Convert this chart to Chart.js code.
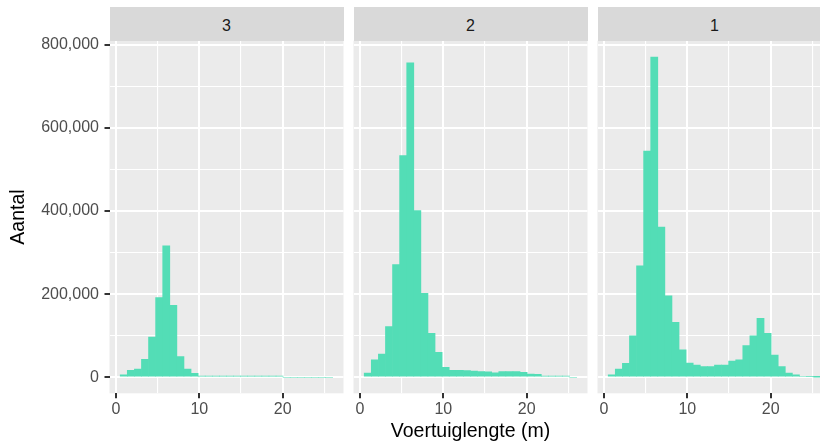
<!DOCTYPE html>
<html>
<head>
<meta charset="utf-8">
<script src="https://cdn.jsdelivr.net/npm/chart.js@4"></script>
<style>
  html, body { margin: 0; padding: 0; background: #fff; overflow: hidden; }
  #wrap { position: relative; width: 820px; height: 446px; overflow: hidden; }
  #wrap canvas { position: absolute; top: 0; }
  .strip {
    position: absolute; top: 7.3px; height: 33.4px; width: 234px;
    box-sizing: border-box; padding-top: 5px;
    background: #d9d9d9; color: #1a1a1a;
    font: 16px "Liberation Sans", Arial, sans-serif;
    display: flex; align-items: center; justify-content: center;
  }
</style>
</head>
<body>
<div id="wrap"></div>
<script>
// Voertuiglengte histograms, one panel per facet (30 bins)

const binMids = [0.93, 1.78, 2.63, 3.48, 4.33, 5.18, 6.03, 6.88, 7.73, 8.58,
  9.43, 10.28, 11.13, 11.98, 12.83, 13.68, 14.53, 15.38, 16.23, 17.08,
  17.93, 18.78, 19.63, 20.48, 21.33, 22.18, 23.03, 23.88, 24.73, 25.58];

const facets = ["3", "2", "1"];

const aantal3 = [6000, 17000, 20000, 43000, 97000, 192000, 316000, 173000, 50000, 20000,
  9600, 3000, 3000, 3000, 3000, 3000, 3000, 3000, 3000, 3000,
  3000, 3000, 3000, 0, 0, 0, 0, 0, 0, 0];

const aantal2 = [10000, 42000, 56000, 122000, 271000, 533000, 756000, 401000, 202000, 106000,
  60000, 24000, 17000, 17000, 16000, 15000, 13500, 13000, 11000, 14000,
  14000, 14000, 12000, 8000, 7000, 3000, 3000, 3000, 3000, 0];

const aantal1 = [6000, 20000, 33600, 100000, 268000, 544000, 770000, 361000, 196000, 132000,
  66000, 34000, 29500, 26000, 26000, 29500, 29500, 39000, 42000, 76000,
  100000, 142000, 106000, 53500, 26000, 10000, 6000, 2500, 2000, 500];

// major ticks carry labels, the rest are minor grid lines
const xTicks = [0, 10, 20];
const xGrid = [0, 5, 10, 15, 20, 25];
const yTicks = [0, 200000, 400000, 600000, 800000];
const yGrid = [0, 100000, 200000, 300000, 400000, 500000, 600000, 700000, 800000];

const $ = id => document.getElementById(id);
const fmt = n => n.toLocaleString("en-US");
const FONT = "'Liberation Sans', Arial, sans-serif";
const BAR = "#53ddb6";

const panelBg = {
  id: "panelBg",
  beforeDraw(c) {
    const a = c.chartArea, ctx = c.ctx;
    ctx.save();
    ctx.fillStyle = "#ebebeb";
    ctx.fillRect(a.left, a.top, a.right - a.left, a.bottom - a.top);
    ctx.restore();
  }
};

// canvas left, canvas width, y axis width, counts
const panels = [
  { left: 0, width: 344, yw: 109.5, data: aantal3 },
  { left: 344, width: 244, yw: 9.5, data: aantal2 },
  { left: 588, width: 244, yw: 9.5, data: aantal1 }
];

panels.forEach((p, i) => {
  const cv = document.createElement("canvas");
  cv.width = p.width; cv.height = 446;
  cv.style.left = p.left + "px";
  cv.style.width = p.width + "px"; cv.style.height = "446px";
  $("wrap").appendChild(cv);

  const strip = document.createElement("div");
  strip.className = "strip";
  strip.style.left = (p.left + p.yw) + "px";
  strip.textContent = facets[i];
  $("wrap").appendChild(strip);

  new Chart(cv, {
    type: "bar",
    data: {
      datasets: [{
        data: binMids.map((x, k) => ({ x, y: p.data[k] })),
        backgroundColor: BAR,
        borderWidth: 0,
        barPercentage: 1,
        categoryPercentage: 1
      }]
    },
    options: {
      responsive: false,
      animation: false,
      devicePixelRatio: 1,
      layout: { padding: { top: 40.7, right: 0.5, bottom: 0, left: 0 } },
      plugins: { legend: { display: false }, tooltip: { enabled: false } },
      scales: {
        x: {
          type: "linear",
          min: -0.78, max: 27.3,
          offset: false,
          border: { display: false },
          grid: {
            offset: false,
            color: "#ffffff",
            lineWidth: c => xTicks.includes(c.tick && c.tick.value) ? 2 : 1.1,
            tickColor: c => xTicks.includes(c.tick && c.tick.value) ? "#333333" : "rgba(0,0,0,0)",
            tickWidth: 2,
            tickLength: 5
          },
          ticks: {
            autoSkip: false,
            maxRotation: 0,
            padding: 2,
            color: "#4d4d4d",
            font: { family: FONT, size: 16 },
            callback: v => xTicks.includes(v) ? String(v) : ""
          },
          afterBuildTicks: s => { s.ticks = xGrid.map(v => ({ value: v })); },
          title: {
            display: i === 1,
            text: "Voertuiglengte (m)",
            color: "#000000",
            font: { family: FONT, size: 19.5 },
            padding: { top: 0, bottom: 3 }
          },
          afterFit: s => { s.height = 52.7; }
        },
        y: {
          type: "linear",
          min: -38500, max: 809500,
          border: { display: false },
          grid: {
            color: "#ffffff",
            lineWidth: c => yTicks.includes(c.tick && c.tick.value) ? 2 : 1.1,
            drawTicks: i === 0,
            tickColor: c => yTicks.includes(c.tick && c.tick.value) ? "#333333" : "rgba(0,0,0,0)",
            tickWidth: 2,
            tickLength: 5
          },
          ticks: {
            display: i === 0,
            autoSkip: false,
            padding: 5.5,
            color: "#4d4d4d",
            font: { family: FONT, size: 16 },
            callback: v => yTicks.includes(v) ? fmt(v) : ""
          },
          afterBuildTicks: s => { s.ticks = yGrid.map(v => ({ value: v })); },
          title: {
            display: i === 0,
            text: "Aantal",
            color: "#000000",
            font: { family: FONT, size: 19.5 },
            padding: { top: 7, bottom: 0 }
          },
          afterFit: s => { s.width = p.yw; }
        }
      }
    },
    plugins: [panelBg]
  });
});
</script>
</body>
</html>
